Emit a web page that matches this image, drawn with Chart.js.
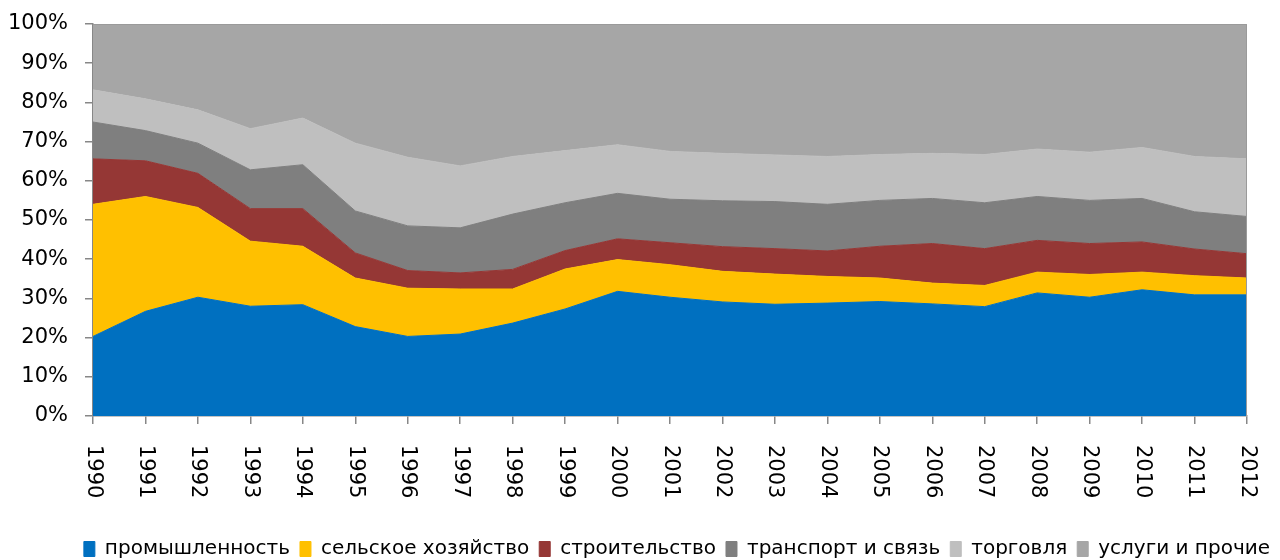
<!DOCTYPE html>
<html>
<head>
<meta charset="utf-8">
<script src="https://cdn.jsdelivr.net/npm/chart.js@4.4.1/dist/chart.umd.min.js"></script>
<style>
  html, body { margin: 0; padding: 0; background: #fff; }
  #wrap { width: 1280px; height: 560px; position: relative; }
</style>
</head>
<body>
<div id="wrap"><canvas id="chart"></canvas></div>
<script>
// годы и доли отраслей, %
const years = ['1990','1991','1992','1993','1994','1995','1996','1997','1998','1999','2000',
               '2001','2002','2003','2004','2005','2006','2007','2008','2009','2010','2011','2012'];

const industry     = [20.3, 26.7, 30.3, 28.0, 28.4, 22.8, 20.3, 20.9, 23.7, 27.3, 31.8, 30.3, 29.1, 28.5, 28.8, 29.2, 28.6, 27.9, 31.4, 30.3, 32.2, 30.9, 30.9];
const agriculture  = [33.7, 29.3, 22.9, 16.6, 14.9, 12.4, 12.3, 11.5,  8.7, 10.2,  8.1,  8.3,  7.8,  7.7,  6.8,  6.0,  5.3,  5.4,  5.3,  5.8,  4.5,  4.9,  4.3];
const construction = [11.6,  9.1,  8.7,  8.3,  9.6,  6.4,  4.5,  4.1,  5.0,  4.7,  5.3,  5.6,  6.3,  6.5,  6.5,  8.1, 10.1,  9.4,  8.1,  7.9,  7.7,  6.8,  6.2];
const transport    = [ 9.4,  7.7,  7.7,  9.9, 11.2, 10.7, 11.4, 11.5, 14.1, 12.2, 11.6, 11.1, 11.7, 12.0, 11.9, 11.7, 11.5, 11.7, 11.2, 11.0, 11.1,  9.5,  9.5];
const trade        = [ 8.2,  8.1,  8.5, 10.5, 11.9, 17.3, 17.5, 15.8, 14.7, 13.3, 12.4, 12.2, 12.1, 11.9, 12.2, 11.7, 11.5, 12.3, 12.1, 12.3, 13.0, 14.1, 14.7];
const services     = [16.8, 19.1, 21.9, 26.7, 24.0, 30.4, 34.0, 36.2, 33.8, 32.3, 30.8, 32.5, 33.0, 33.4, 33.8, 33.3, 33.0, 33.3, 31.9, 32.7, 31.5, 33.8, 34.4];

const yTicks = [0, 10, 20, 30, 40, 50, 60, 70, 80, 90, 100];

const FONT = 'DejaVu Sans';
const AXIS = '#878787';

const series = [
    { label: 'промышленность',      data: industry,     color: '#0070c0' },
    { label: 'сельское хозяйство',  data: agriculture,  color: '#ffc000' },
    { label: 'строительство',       data: construction, color: '#953735' },
    { label: 'транспорт и связь',   data: transport,    color: '#7f7f7f' },
    { label: 'торговля',            data: trade,        color: '#bfbfbf' },
    { label: 'услуги и прочие',     data: services,     color: '#a6a6a6' },
];

// подписи годов, повернутые на 90° по часовой стрелке
const yearLabels = {
    id: 'yearLabels',
    afterDraw(chart) {
        const x = chart.scales.x, ctx = chart.ctx;
        ctx.save();
        ctx.fillStyle = '#000';
        ctx.font = '21px "' + FONT + '"';
        ctx.textAlign = 'left';
        ctx.textBaseline = 'middle';
        x.ticks.forEach((t, i) => {
            ctx.save();
            ctx.translate(x.getPixelForTick(i), chart.chartArea.bottom + 29);
            ctx.rotate(Math.PI / 2);
            ctx.fillText(years[i], 0, 0);
            ctx.restore();
        });
        ctx.restore();
    }
};

// тонкая рамка сверху и справа от области построения
const frame = {
    id: 'frame',
    afterDatasetsDraw(chart) {
        const a = chart.chartArea, ctx = chart.ctx;
        ctx.save();
        ctx.strokeStyle = '#9a9a9a';
        ctx.lineWidth = 1;
        ctx.beginPath();
        ctx.moveTo(a.left, a.top + 0.5);
        ctx.lineTo(a.right - 0.5, a.top + 0.5);
        ctx.lineTo(a.right - 0.5, a.bottom);
        ctx.stroke();
        ctx.restore();
    }
};

new Chart(document.getElementById('chart'), {
    type: 'line',
    data: {
        labels: years,
        datasets: series.map((s, i) => ({
            label: s.label,
            data: s.data,
            backgroundColor: s.color,
            borderColor: s.color,
            borderWidth: 1,
            pointRadius: 0,
            tension: 0,
            fill: i === 0 ? 'origin' : '-1',
        })),
    },
    options: {
        responsive: true,
        maintainAspectRatio: false,
        animation: false,
        layout: { padding: { top: 24, right: 0, left: 0, bottom: -9 } },
        plugins: {
            tooltip: { enabled: false },
            legend: {
                position: 'bottom',
                align: 'end',
                labels: {
                    color: '#000',
                    font: { family: FONT, size: 20 },
                    boxWidth: 11,
                    boxHeight: 15,
                    padding: 10,
                },
            },
        },
        scales: {
            x: {
                stacked: true,
                offset: false,
                grid: { display: true, drawOnChartArea: false, drawTicks: true, tickLength: 8, color: AXIS, lineWidth: 1.5 },
                border: { color: AXIS, width: 1.5 },
                ticks: { display: false },
                afterFit: s => { s.height = 113; s.paddingLeft = 0; s.paddingRight = 0; },
            },
            y: {
                stacked: true,
                min: 0,
                max: 100,
                afterBuildTicks: s => { s.ticks = yTicks.map(v => ({ value: v })); },
                grid: { display: true, drawOnChartArea: false, drawTicks: true, tickLength: 8, color: AXIS, lineWidth: 1.5 },
                border: { color: AXIS, width: 1.5 },
                ticks: {
                    color: '#000',
                    padding: 17,
                    font: { family: FONT, size: 21 },
                    callback: v => v + '%',
                },
                afterFit: s => { s.width = 93; s.paddingTop = 0; s.paddingBottom = 0; },
            },
            // пустая ось справа — только отступ от края
            spacer: {
                position: 'right',
                grid: { display: false },
                border: { display: false },
                ticks: { display: false },
                afterFit: s => { s.width = 33; s.paddingTop = 0; s.paddingBottom = 0; },
            },
        },
    },
    plugins: [yearLabels, frame],
});
</script>
</body>
</html>
